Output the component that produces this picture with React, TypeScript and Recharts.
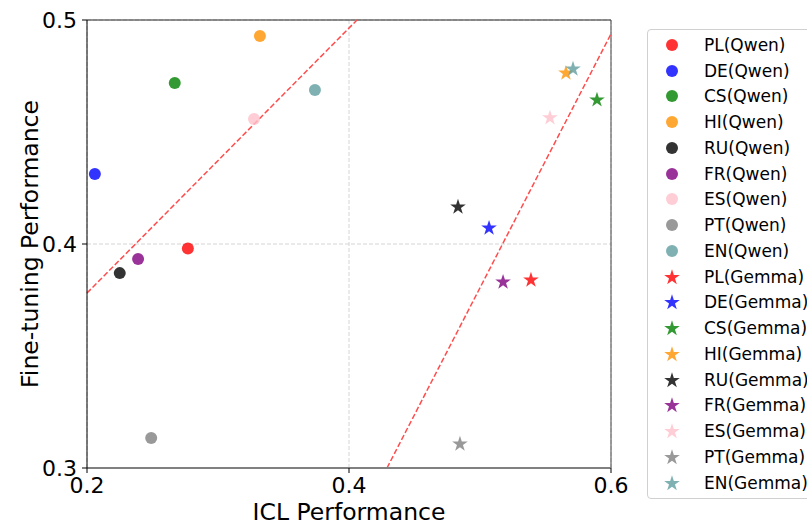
import {
  ScatterChart,
  Scatter,
  XAxis,
  YAxis,
  CartesianGrid,
  ReferenceLine,
} from "recharts";

const languages = ["PL", "DE", "CS", "HI", "RU", "FR", "ES", "PT", "EN"];
const colors = ["#ff0000", "#0000ff", "#008000", "#ff9100", "#000000", "#800080", "#ffc0cb", "#808080", "#5f9ea0"];

// ICL vs fine-tuning per language
const qwenIcl = [0.277, 0.206, 0.267, 0.332, 0.225, 0.239, 0.3275, 0.249, 0.374];
const qwenFt = [0.398, 0.4313, 0.4719, 0.4929, 0.387, 0.3933, 0.4558, 0.3134, 0.4688];
const gemmaIcl = [0.5389, 0.5069, 0.5893, 0.5656, 0.4832, 0.5176, 0.5534, 0.4847, 0.571];
const gemmaFt = [0.3839, 0.4071, 0.4643, 0.4763, 0.4165, 0.383, 0.4563, 0.3107, 0.4781];

// fitted trend lines (endpoints)
const qwenFitX = [0.2, 0.4061];
const qwenFitY = [0.3781, 0.5];
const gemmaFitX = [0.429, 0.6];
const gemmaFitY = [0.3, 0.4938];

const xTicks = [0.2, 0.4, 0.6];
const yTicks = [0.3, 0.4, 0.5];

const FONT = "'DejaVu Sans', sans-serif";

function starPoints(cx: number, cy: number, R: number) {
  const r = R * 0.382;
  const pts: string[] = [];
  for (let i = 0; i < 10; i++) {
    const a = -Math.PI / 2 + (i * Math.PI) / 5;
    const rad = i % 2 === 0 ? R : r;
    pts.push(`${cx + rad * Math.cos(a)},${cy + rad * Math.sin(a)}`);
  }
  return pts.join(" ");
}

const dot = (color: string) => (p: any) => (
  <circle cx={p.cx} cy={p.cy} r={6} fill={color} fillOpacity={0.8} />
);
const star = (color: string) => (p: any) => (
  <polygon points={starPoints(p.cx, p.cy, 8.2)} fill={color} fillOpacity={0.8} />
);

function LegendBox() {
  const rows: { label: string; color: string; kind: string }[] = [];
  languages.forEach((l, i) => rows.push({ label: `${l}(Qwen)`, color: colors[i], kind: "o" }));
  languages.forEach((l, i) => rows.push({ label: `${l}(Gemma)`, color: colors[i], kind: "*" }));
  return (
    <div
      style={{
        position: "absolute",
        left: 647,
        top: 29,
        border: "1px solid #d0d0d0",
        borderRadius: 4,
        background: "#fff",
        padding: "2px 0",
        width: 190,
        fontFamily: FONT,
        fontSize: 17,
        color: "#000",
      }}
    >
      {rows.map((r) => (
        <div key={r.label} style={{ height: 25.76, display: "flex", alignItems: "center", whiteSpace: "nowrap" }}>
          <svg width={48} height={20} style={{ marginLeft: 8, flex: "none" }}>
            {r.kind === "o" ? (
              <circle cx={16} cy={10} r={6} fill={r.color} fillOpacity={0.8} />
            ) : (
              <polygon points={starPoints(16, 10.5, 8.2)} fill={r.color} fillOpacity={0.8} />
            )}
          </svg>
          <span>{r.label}</span>
        </div>
      ))}
    </div>
  );
}

export default function App() {
  return (
    <div style={{ position: "absolute", left: 0, top: 0, width: 807, height: 525, overflow: "hidden", background: "#fff" }}>
      <ScatterChart width={807} height={525} margin={{ top: 20, right: 196, bottom: 0, left: 0 }}>
        <CartesianGrid stroke="#d4d4d4" strokeDasharray="4 2" />
        <XAxis
          type="number"
          dataKey="x"
          domain={[0.2, 0.6]}
          ticks={xTicks}
          tickFormatter={(v: number) => v.toFixed(1)}
          allowDataOverflow
          height={57}
          tickSize={5}
          tickMargin={4}
          tick={{ fill: "#000", fontSize: 22, fontFamily: FONT }}
          axisLine={{ stroke: "#808080", strokeWidth: 2 }}
          tickLine={{ stroke: "#000" }}
          label={{ value: "ICL Performance", position: "insideBottom", offset: 5, fill: "#000", fontSize: 23.5, fontFamily: FONT }}
        />
        <YAxis
          type="number"
          dataKey="y"
          domain={[0.3, 0.5]}
          ticks={yTicks}
          tickFormatter={(v: number) => v.toFixed(1)}
          allowDataOverflow
          width={87}
          tickSize={5}
          tickMargin={5}
          tick={{ fill: "#000", fontSize: 22, fontFamily: FONT }}
          axisLine={{ stroke: "#000" }}
          tickLine={{ stroke: "#000" }}
          label={(props: any) => {
            const vb = props.viewBox;
            const x = vb.x + 30;
            const y = vb.y + vb.height / 2;
            return (
              <text
                x={x}
                y={y}
                transform={`rotate(-90, ${x}, ${y})`}
                textAnchor="middle"
                dominantBaseline="central"
                fontSize={23.5}
                fontFamily={FONT}
                fill="#000"
              >
                Fine-tuning Performance
              </text>
            );
          }}
        />
        <ReferenceLine y={0.5} stroke="#222" />
        <ReferenceLine x={0.6} stroke="#444" />
        <ReferenceLine
          segment={[
            { x: qwenFitX[0], y: qwenFitY[0] },
            { x: qwenFitX[1], y: qwenFitY[1] },
          ]}
          stroke="#ff4d4d"
          strokeWidth={1.5}
          strokeDasharray="5.5 2.4"
        />
        <ReferenceLine
          segment={[
            { x: gemmaFitX[0], y: gemmaFitY[0] },
            { x: gemmaFitX[1], y: gemmaFitY[1] },
          ]}
          stroke="#ff4d4d"
          strokeWidth={1.5}
          strokeDasharray="5.5 2.4"
        />
        {languages.map((l, i) => (
          <Scatter
            key={`q-${l}`}
            name={`${l}(Qwen)`}
            data={[{ x: qwenIcl[i], y: qwenFt[i] }]}
            shape={dot(colors[i])}
            fill={colors[i]}
            isAnimationActive={false}
          />
        ))}
        {languages.map((l, i) => (
          <Scatter
            key={`g-${l}`}
            name={`${l}(Gemma)`}
            data={[{ x: gemmaIcl[i], y: gemmaFt[i] }]}
            shape={star(colors[i])}
            fill={colors[i]}
            isAnimationActive={false}
          />
        ))}
      </ScatterChart>
      <LegendBox />
    </div>
  );
}
